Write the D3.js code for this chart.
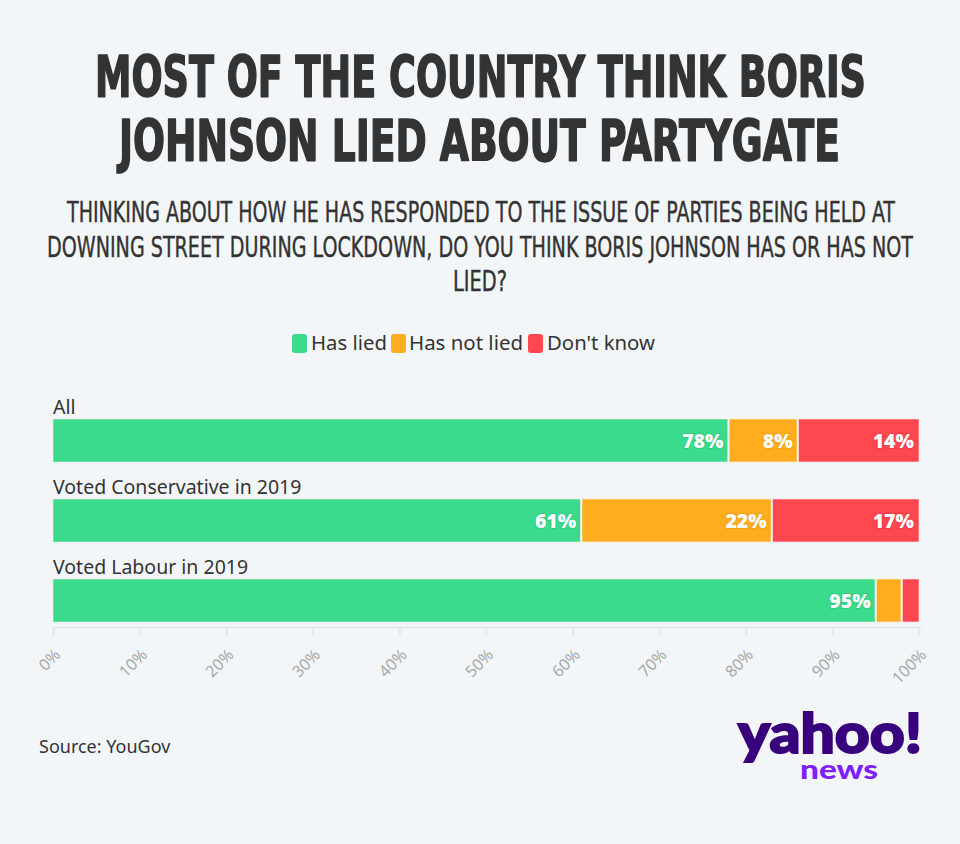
<!DOCTYPE html>
<html>
<head>
<meta charset="utf-8">
<script src="https://cdn.jsdelivr.net/npm/d3@7"></script>
<style>
  html, body { margin: 0; padding: 0; background: #f3f6f9; }
  svg { display: block; }
</style>
</head>
<body>
<svg id="chart" width="960" height="844"></svg>
<script>
// ---- Data ----
const categories = ["All", "Voted Conservative in 2019", "Voted Labour in 2019"];
const seriesNames = ["Has lied", "Has not lied", "Don't know"];
const hasLied = [78, 61, 95];
const hasNotLied = [8, 22, 3];
const dontKnow = [14, 17, 2];
const tickValues = [0, 10, 20, 30, 40, 50, 60, 70, 80, 90, 100];
const titleLines = ["MOST OF THE COUNTRY THINK BORIS", "JOHNSON LIED ABOUT PARTYGATE"];
const subtitleLines = [
  "THINKING ABOUT HOW HE HAS RESPONDED TO THE ISSUE OF PARTIES BEING HELD AT",
  "DOWNING STREET DURING LOCKDOWN, DO YOU THINK BORIS JOHNSON HAS OR HAS NOT",
  "LIED?"
];
const sourceText = "Source: YouGov";

const colors = ["#3adb8c", "#ffad1e", "#ff4750"];
const strokeColors = ["#30cc7e", "#f5a012", "#f23a44"];

const svg = d3.select("#chart");
svg.append("rect").attr("width", 960).attr("height", 844).attr("fill", "#f3f6f9");

const bodyFont = "'Noto Sans', 'Open Sans', sans-serif";

// ---- Title ----
const titleFont = "'DejaVu Sans Condensed', 'Liberation Sans Narrow', sans-serif";
const titleGeom = [{y: 97, x0: 95, x1: 866}, {y: 161, x0: 119, x1: 840}];
svg.append("g").selectAll("text").data(titleLines).join("text")
  .attr("x", (d, i) => titleGeom[i].x0)
  .attr("y", (d, i) => titleGeom[i].y)
  .attr("textLength", (d, i) => titleGeom[i].x1 - titleGeom[i].x0)
  .attr("lengthAdjust", "spacingAndGlyphs")
  .attr("font-family", titleFont)
  .attr("font-weight", "bold")
  .attr("font-size", 57)
  .attr("fill", "#333")
  .attr("stroke", "#333")
  .attr("stroke-width", 1.6)
  .attr("stroke-linejoin", "round")
  .text(d => d);

const subGeom = [{y: 222, x0: 67, x1: 895}, {y: 257, x0: 47, x1: 913}, {y: 291, x0: 453, x1: 507}];
svg.append("g").selectAll("text").data(subtitleLines).join("text")
  .attr("x", (d, i) => subGeom[i].x0)
  .attr("y", (d, i) => subGeom[i].y)
  .attr("textLength", (d, i) => subGeom[i].x1 - subGeom[i].x0)
  .attr("lengthAdjust", "spacingAndGlyphs")
  .attr("font-family", titleFont)
  .attr("font-size", 28)
  .attr("fill", "#333")
  .attr("stroke", "#333")
  .attr("stroke-width", 0.4)
  .text(d => d);

// ---- Legend ----
const legendItems = [
  {name: seriesNames[0], sx: 292, tx: 311, w: 76},
  {name: seriesNames[1], sx: 391, tx: 409, w: 114},
  {name: seriesNames[2], sx: 528, tx: 547, w: 108}
];
const lg = svg.append("g");
lg.selectAll("rect").data(legendItems).join("rect")
  .attr("x", d => d.sx).attr("y", 334).attr("width", 15).attr("height", 19)
  .attr("rx", 3).attr("fill", (d, i) => colors[i]);
lg.selectAll("text").data(legendItems).join("text")
  .attr("x", d => d.tx).attr("y", 350)
  .attr("textLength", d => d.w).attr("lengthAdjust", "spacingAndGlyphs")
  .attr("font-family", bodyFont)
  .attr("font-size", 20).attr("fill", "#333")
  .text(d => d.name);

// ---- Chart ----
const x = d3.scaleLinear().domain([0, 100]).range([53, 919]);
const y = d3.scaleBand().domain(categories).range([419, 622]).paddingInner(0.4625).paddingOuter(0);

const rows = categories.map((c, i) => ({cat: c, vals: [hasLied[i], hasNotLied[i], dontKnow[i]]}));
const stack = d3.stack().keys([0, 1, 2]).value((d, k) => d.vals[k]);
const series = stack(rows);

// row labels
svg.append("g").selectAll("text").data(categories).join("text")
  .attr("x", 53).attr("y", d => y(d) - 5)
  .attr("font-family", bodyFont)
  .attr("font-size", 19.5).attr("fill", "#333")
  .text(d => d);

const segG = svg.append("g");
series.forEach((s, k) => {
  segG.selectAll(null).data(s).join("rect")
    .attr("x", d => x(d[0]))
    .attr("y", d => y(d.data.cat))
    .attr("width", d => x(d[1]) - x(d[0]))
    .attr("height", y.bandwidth())
    .attr("fill", colors[k])
    .attr("stroke", "#fbe9ea")
    .attr("stroke-opacity", 0.6)
    .attr("stroke-width", 1);
});

// separators between segments
series.forEach((s, k) => {
  if (k === 0) return;
  segG.selectAll(null).data(s).join("line")
    .attr("x1", d => x(d[0])).attr("x2", d => x(d[0]))
    .attr("y1", d => y(d.data.cat)).attr("y2", d => y(d.data.cat) + y.bandwidth())
    .attr("stroke", "#f3f6f9").attr("stroke-width", 2);
});

// value labels
const labG = svg.append("g");
series.forEach((s, k) => {
  labG.selectAll(null).data(s.filter(d => (d[1] - d[0]) >= 5)).join("text")
    .attr("x", d => x(d[1]) - 5)
    .attr("y", d => y(d.data.cat) + y.bandwidth() / 2 + 7)
    .attr("text-anchor", "end")
    .attr("font-family", "'Open Sans', 'Noto Sans', sans-serif")
    .attr("font-weight", 800)
    .attr("font-size", 19.5)
    .attr("fill", "#fff")
    .attr("stroke", strokeColors[k])
    .attr("stroke-width", 2)
    .attr("paint-order", "stroke")
    .attr("stroke-linejoin", "round")
    .text(d => (d[1] - d[0]) + "%");
});

// axis
const axis = d3.axisBottom(x).tickValues(tickValues).tickFormat(d => d + "%").tickSize(9).tickPadding(4);
const ax = svg.append("g").attr("transform", "translate(0,627)").call(axis);
ax.select(".domain").attr("stroke", "#e3e6e9").attr("stroke-width", 1.5);
ax.selectAll(".tick line").attr("stroke", "#e3e6e9").attr("stroke-width", 1.5);
ax.selectAll(".tick text")
  .attr("fill", "#a8a8a8")
  .attr("font-family", bodyFont)
  .attr("font-size", 16)
  .attr("text-anchor", "end")
  .attr("x", 0).attr("y", 0)
  .attr("dy", "0.35em")
  .attr("transform", "translate(4,25) rotate(-45)");

// source
svg.append("text").attr("x", 39).attr("y", 753)
  .attr("font-family", bodyFont)
  .attr("font-size", 18).attr("fill", "#333").text(sourceText);

// yahoo logo
svg.append("text").attr("x", 738).attr("y", 753)
  .attr("textLength", 184).attr("lengthAdjust", "spacingAndGlyphs")
  .attr("font-family", "Lato, 'Open Sans', sans-serif")
  .attr("font-weight", 900)
  .attr("font-size", 56).attr("fill", "#39007d")
  .attr("stroke", "#39007d").attr("stroke-width", 2)
  .text("yahoo!");
svg.append("text").attr("x", 800).attr("y", 779)
  .attr("textLength", 78).attr("lengthAdjust", "spacingAndGlyphs")
  .attr("font-family", "Lato, 'Open Sans', sans-serif")
  .attr("font-weight", 900)
  .attr("font-size", 27).attr("fill", "#7e1fff").text("news");
</script>
</body>
</html>
